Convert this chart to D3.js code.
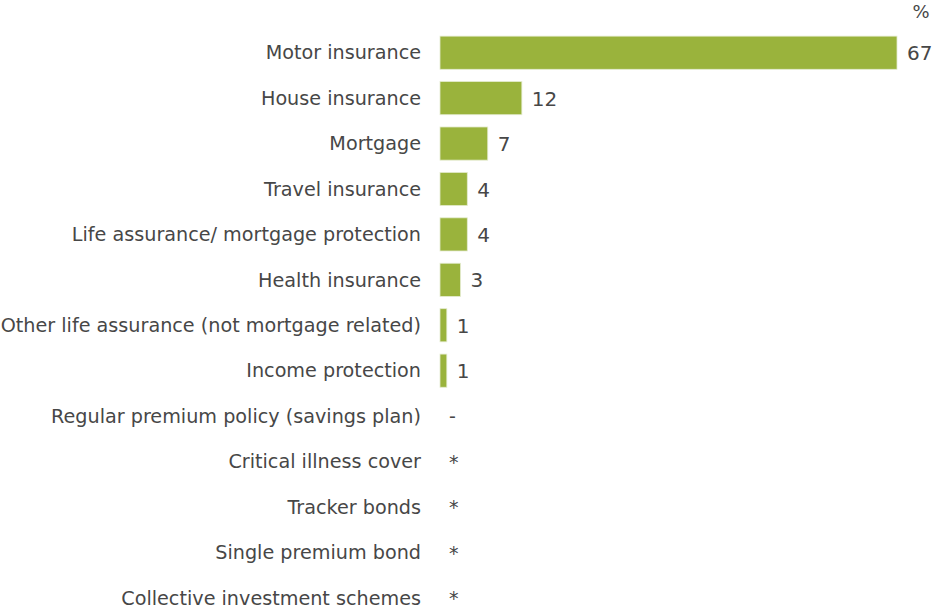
<!DOCTYPE html>
<html>
<head>
<meta charset="utf-8">
<script src="https://cdn.jsdelivr.net/npm/d3@7"></script>
<style>
body { margin: 0; background: #fff; }
svg text { font-family: "DejaVu Sans", Verdana, sans-serif; fill: #474747; }
</style>
</head>
<body>
<svg id="chart" width="936" height="610"></svg>
<script>
var categories = ["Motor insurance", "House insurance", "Mortgage", "Travel insurance",
	"Life assurance/ mortgage protection", "Health insurance",
	"Other life assurance (not mortgage related)", "Income protection",
	"Regular premium policy (savings plan)", "Critical illness cover",
	"Tracker bonds", "Single premium bond", "Collective investment schemes"];
var values = [67, 12, 7, 4, 4, 3, 1, 1, 0, 0, 0, 0, 0];
var valueLabels = ["67", "12", "7", "4", "4", "3", "1", "1", "-", "*", "*", "*", "*"];

var svg = d3.select("#chart");
var barcolor = "#9ab33c";

var x = d3.scaleLinear().domain([0, 67]).range([440, 897]);
var y = d3.scaleBand().domain(categories).range([30, 620.5]).paddingInner(0.27).paddingOuter(0.135);

// bars
svg.selectAll("rect.bar")
	.data(categories)
	.enter().append("rect")
	.attr("class", "bar")
	.attr("x", x(0))
	.attr("y", function(d) { return y(d); })
	.attr("width", function(d, i) { return x(values[i]) - x(0); })
	.attr("height", y.bandwidth())
	.style("fill", barcolor)
	.style("stroke", "#e4ebcf")
	.style("stroke-width", 0.8);

// category labels
svg.selectAll("text.cat")
	.data(categories)
	.enter().append("text")
	.attr("class", "cat")
	.attr("x", 421)
	.attr("y", function(d) { return y(d) + y.bandwidth()/2; })
	.attr("dy", ".35em")
	.attr("text-anchor", "end")
	.style("font-size", "19.2px")
	.text(function(d) { return d; });

// value labels ("-" and "*" where there is no bar)
svg.selectAll("text.val")
	.data(categories)
	.enter().append("text")
	.attr("class", "val")
	.attr("x", function(d, i) { return values[i] > 0 ? x(values[i]) + 10 : x(0) + 9; })
	.attr("y", function(d) { return y(d) + y.bandwidth()/2; })
	.attr("dy", ".38em")
	.style("font-size", function(d, i) { return values[i] > 0 ? "20px" : "19px"; })
	.text(function(d, i) { return valueLabels[i]; });

svg.append("text")
	.attr("x", 921)
	.attr("y", 12)
	.attr("dy", ".35em")
	.attr("text-anchor", "middle")
	.style("font-size", "18px")
	.text("%");
</script>
</body>
</html>
